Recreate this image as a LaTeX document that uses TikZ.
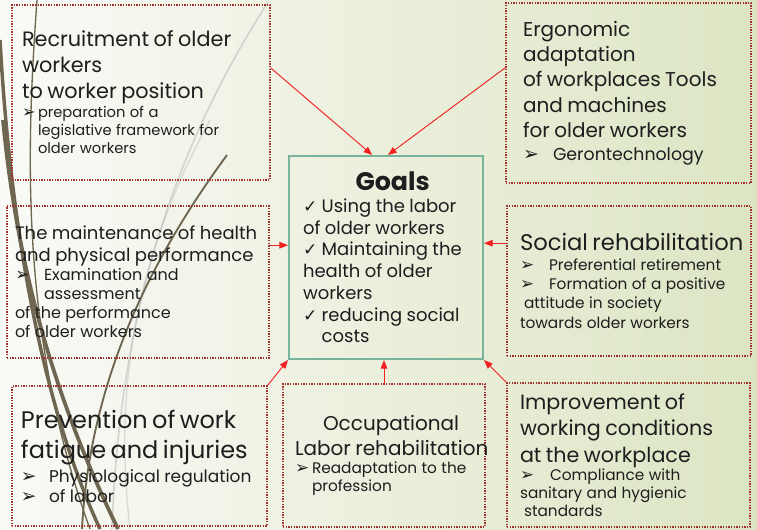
\documentclass[tikz,border=0pt]{standalone}
\usepackage{fontspec}
\setmainfont{Poppins}
\newfontfamily\symfont{DejaVu Sans}
\usetikzlibrary{arrows.meta,calc}

\definecolor{boxred}{HTML}{A3302A}
\definecolor{goalgreen}{HTML}{78B49C}
\definecolor{linkred}{HTML}{F22020}
\definecolor{bladebrown}{HTML}{6E6650}
\definecolor{bgleft}{HTML}{FAFAF7}
\definecolor{bgright}{HTML}{DCE5C3}
\definecolor{ink}{HTML}{1E1E1E}

\hyphenpenalty=10000

% font size and line skip
\newcommand\fs[2]{\fontsize{#1}{#2}\selectfont}
% arrow bullet and check mark, padded to a given width
\newcommand\bul[1]{\makebox[#1][l]{\symfont\smash{\scalebox{1.1}{\char"27A2}}}}
\newcommand\tick{\makebox[14pt][l]{\symfont\smash{\scalebox{0.95}{\char"2713}}}}

\begin{document}
\begin{tikzpicture}[x=0.75pt, y=-0.75pt, thick]

    \tikzset{area/.style={%
      draw=boxred,%
      line width=0.9pt,%
      dash pattern=on 0.9pt off 1.1pt,%
      rectangle,%
      text=ink,%
      align=left}%
    };

    \tikzset{goalblock/.style={area, draw=goalgreen, solid, line width=1.5pt}};

    \tikzset{link/.style={draw=linkred, line width=0.7pt, -{Triangle[length=6.5pt,width=5pt]}}};

    \useasboundingbox (0,0) rectangle (757,529);

    %%%%%%%%%%%%%%
    % background %
    %%%%%%%%%%%%%%
    \fill[left color=bgleft, right color=bgright] (0,0) rectangle (757,529);

    % grass blades
    \draw[gray!60, opacity=0.5, line width=1.2pt] (268,2) .. controls (180,140) and (120,300) .. (112,529);
    \draw[gray!50, opacity=0.5, line width=1pt] (210,120) .. controls (150,230) and (110,360) .. (130,529);
    \draw[bladebrown, line width=2.6pt] (0,40) .. controls (10,220) and (40,400) .. (100,529);
    \draw[bladebrown, line width=2.8pt] (3,120) .. controls (20,300) and (70,430) .. (118,529);
    \draw[bladebrown, line width=1pt] (37,0) .. controls (27,140) and (18,330) .. (90,529);
    \draw[bladebrown, line width=1.4pt] (227,155) .. controls (150,260) and (90,380) .. (82,529);

    %%%%%%%%%%%%%%%%%%%%%%%
    % goals in the middle %
    %%%%%%%%%%%%%%%%%%%%%%%
    \node[goalblock, minimum width=145.5pt, minimum height=152.25pt, inner xsep=10.5pt, text width=124.5pt] (goals) at (386,257.5)
      {{\fs{19}{22}\makebox[\linewidth]{\hspace*{10pt}\bfseries Goals}\par}
       {\fs{13.5}{16.3}\tick Using the labor\\ of older workers\\ \tick Maintaining the\\ health of older\\ workers\\ \tick reducing social\\ \hspace*{14pt}costs\par}};

    %%%%%%%%%%%%%%%%%%%%%%%%
    % measures around them %
    %%%%%%%%%%%%%%%%%%%%%%%%
    \node[area, minimum width=193.5pt, minimum height=131.25pt, inner xsep=7.5pt, text width=178.5pt] (recruit) at (141,92.5)
      {{\fs{15.6}{19.5}Recruitment of older\\ workers\\ to worker position\par}
       {\fs{11}{13.7}\bul{12pt}preparation of a\\ \hspace*{12pt}legislative framework for\\ \hspace*{12pt}older workers\par}};

    \node[area, minimum width=183.75pt, minimum height=135pt, inner xsep=12.75pt, text width=158.25pt] (ergo) at (628.5,93)
      {{\fs{15}{19}Ergonomic\\ adaptation\\ of workplaces Tools\\ and machines\\ for older workers\par}
       {\fs{13}{17}\bul{22.5pt}Gerontechnology\par}};

    \node[area, minimum width=196.5pt, minimum height=114pt, inner xsep=6pt, text width=184.5pt] (health) at (138,282)
      {{\fs{13.5}{16.3}The maintenance of health\\ and physical performance\par}
       {\fs{12}{14.3}\bul{21.75pt}Examination and\\ \hspace*{21.75pt}assessment\\ of the performance\\ of older workers\par}};

    \node[area, minimum width=183pt, minimum height=112.5pt, inner xsep=9.75pt, text width=163.5pt] (social) at (629,281)
      {{\fs{17}{19}\mbox{Social rehabilitation}\par}
       {\fs{11.5}{14.5}\bul{21.75pt}Preferential retirement\\ \bul{21.75pt}Formation of a positive\\ \hspace*{3pt}attitude in society\\ towards older workers\par}};

    \node[area, minimum width=191.25pt, minimum height=105pt, inner xsep=6.75pt, text width=177.75pt] (fatigue) at (139.5,456)
      {{\fs{18}{22.5}Prevention of work\\ fatigue and injuries\par}
       \vspace{3pt}
       {\fs{12.75}{15}\bul{21pt}\mbox{Physiological regulation}\\ \bul{21pt}of labor\par}};

    \node[area, minimum width=151.5pt, minimum height=107.25pt, inner xsep=9pt, text width=133.5pt] (occup) at (384,455.5)
      {{\fs{15}{19}\hspace*{21pt}Occupational\\ \mbox{Labor rehabilitation}\par}
       {\fs{11.5}{13.5}\bul{12.75pt}Readaptation to the\\ \hspace*{12.75pt}profession\par}};

    \node[area, minimum width=182.25pt, minimum height=108pt, inner xsep=9.75pt, text width=162.75pt] (workplace) at (628.5,455)
      {{\fs{15.5}{20}Improvement of\\ working conditions\\ at the workplace\par}
       {\fs{11.5}{13.5}\bul{22.5pt}Compliance with\\ sanitary and hygienic\\ \hspace*{3pt}standards\par}};

    %%%%%%%%%%
    % arrows %
    %%%%%%%%%%
    \draw [link] ($(recruit.north east)!0.36!(recruit.south east)$) -- ($(goals.north west)!0.43!(goals.north east)$);
    \draw [link] ($(ergo.north west)!0.36!(ergo.south west)$) -- ($(goals.north west)!0.51!(goals.north east)$);
    \draw [link] ($(health.north east)!0.26!(health.south east)$) coordinate (h1) -- (h1 -| goals.west);
    \draw [link] ($(social.north west)!0.25!(social.south west)$) coordinate (s1) -- (s1 -| goals.east);
    \draw [link] (fatigue.north east) -- (goals.south west);
    \draw [link] (occup.north) -- (occup.north |- goals.south);
    \draw [link] (workplace.north west) -- (goals.south east);

  \end{tikzpicture}
\end{document}
